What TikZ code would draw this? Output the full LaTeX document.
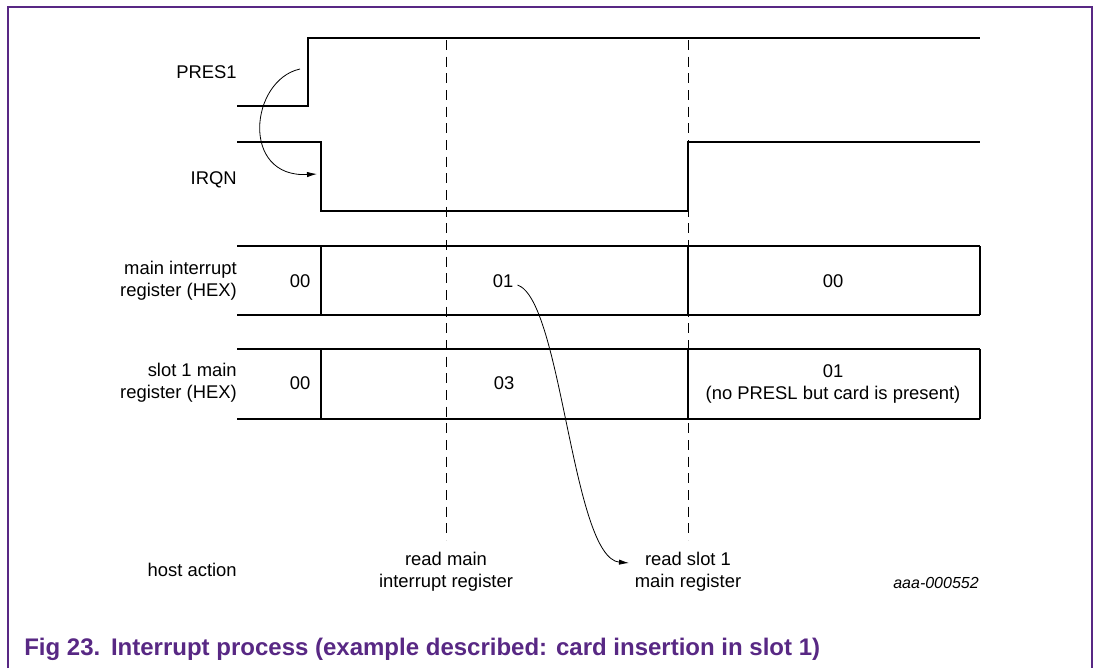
\documentclass[tikz,border=0pt]{standalone}
\usepackage{fontspec}
\setmainfont{Liberation Sans}
\usepackage{xcolor}
\usetikzlibrary{arrows.meta,positioning}
\definecolor{nxppurple}{RGB}{88,40,132}

\begin{document}
\begin{tikzpicture}[
  x=0.75pt, y=-0.75pt,
  font=\fontsize{13.8}{16.5}\selectfont,
  sig/.style={line width=2.1pt, line join=miter},
  guide/.style={line width=0.7pt, dash pattern=on 7.5pt off 5pt},
  lbl/.style={anchor=east, align=right, inner sep=0pt},
  val/.style={align=center, inner sep=0pt},
  arr/.style={-{Latex[length=7.5pt,width=4pt]}, line width=0.6pt}
]
\useasboundingbox (0,0) rectangle (1095,668);
\draw[nxppurple, line width=1.1pt] (8,668) -- (8,7) -- (1092,7) -- (1092,668);

% signal names
\node[lbl] (pres) at (237,72) {PRES1};
\node[lbl] (irqn) at (237,180) {IRQN};
\node[lbl] (mainreg) at (237,281) {main interrupt\\register (HEX)};
\node[lbl] (slotreg) at (237,383) {slot 1 main\\register (HEX)};
\node[lbl] (host) at (237,570) {host action};

% read moments
\foreach \xr in {446,688}
  \draw[guide] (\xr,40) -- (\xr,540);

% waveforms
\draw[sig] (237,106) -- (308,106) -- (308,38) -- (980,38);
\draw[sig] (237,142) -- (321,142) -- (321,211) -- (688,211) -- (688,142) -- (980,142);

% register contents
\foreach \yt/\yb in {246/315,349/419}{
  \draw[sig] (237,\yt) -- (980,\yt) (237,\yb) -- (980,\yb);
  \draw[sig] (321,\yt) -- (321,\yb) (688,\yt) -- (688,\yb) (980,\yt) -- (980,\yb);
}
\node[val] (m0) at (300,281) {00};
\node[val] (m1) at (503,281) {01};
\node[val] (m2) at (833,281) {00};
\node[val] (s0) at (300,383) {00};
\node[val] (s1) at (504,383) {03};
\node[val] (s2) at (833,384) {01\\(no PRESL but card is present)};

% host actions
\node[val] (rdmain) at (446,572) {read main\\interrupt register};
\node[val] (rdslot) at (688,572) {read slot 1\\main register};
\node[anchor=east, inner sep=0pt, font=\fontsize{12}{14}\selectfont\itshape] (code) at (979,583) {aaa-000552};

% arrows
\coordinate (presedge) at (300,69);
\coordinate (irqfall) at (317,174);
\coordinate (slotread) at (629,563);
\draw[arr] (presedge) .. controls (250,80) and (240,178) .. (irqfall);
\draw[arr] ([xshift=3pt,yshift=-3pt]m1.east) .. controls (562,300) and (572,558) .. (slotread);

\node[anchor=west, inner sep=0pt, text=nxppurple, font=\fontsize{18}{21}\selectfont\bfseries] (caption) at (24,649)
  {Fig 23.\hspace{0.45em}Interrupt process (example described: card insertion in slot 1)};
\end{tikzpicture}
\end{document}
